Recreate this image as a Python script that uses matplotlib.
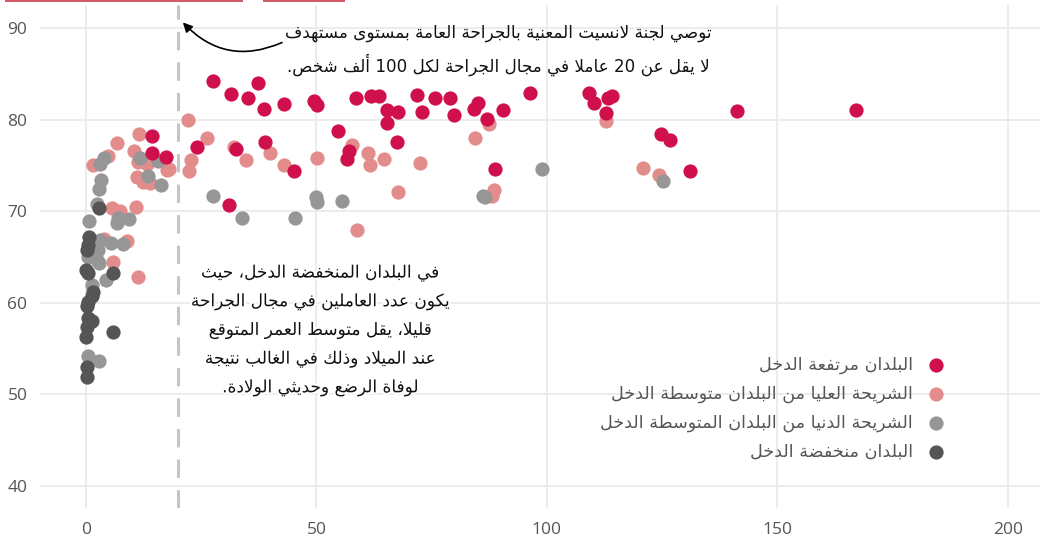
import re
import matplotlib
matplotlib.use("Agg")
import matplotlib.pyplot as plt
import matplotlib.patheffects as pe
from matplotlib.patches import Rectangle

# ---------------------------------------------------------------------------
# Arabic shaping (matplotlib has no complex text layout): presentation forms + RTL
# ---------------------------------------------------------------------------
DUAL = {'ب': 0xFE8F, 'ت': 0xFE95, 'ث': 0xFE99, 'ج': 0xFE9D, 'ح': 0xFEA1, 'خ': 0xFEA5,
        'س': 0xFEB1, 'ش': 0xFEB5, 'ص': 0xFEB9, 'ض': 0xFEBD, 'ط': 0xFEC1, 'ظ': 0xFEC5,
        'ع': 0xFEC9, 'غ': 0xFECD, 'ف': 0xFED1, 'ق': 0xFED5, 'ك': 0xFED9, 'ل': 0xFEDD,
        'م': 0xFEE1, 'ن': 0xFEE5, 'ه': 0xFEE9, 'ي': 0xFEF1, 'ئ': 0xFE89}
RIGHT = {'ا': 0xFE8D, 'أ': 0xFE83, 'إ': 0xFE87, 'آ': 0xFE81, 'د': 0xFEA9, 'ذ': 0xFEAB,
         'ر': 0xFEAD, 'ز': 0xFEAF, 'و': 0xFEED, 'ؤ': 0xFE85, 'ة': 0xFE93, 'ى': 0xFEEF}
LAM_ALEF = {'ا': 0xFEFB, 'أ': 0xFEF7, 'إ': 0xFEF9, 'آ': 0xFEF5}


def ar(text):
    # lam + alef ligatures first
    chars = []
    i = 0
    while i < len(text):
        c = text[i]
        if c == 'ل' and i + 1 < len(text) and text[i + 1] in LAM_ALEF:
            chars.append(('LA', text[i + 1]))
            i += 2
        else:
            chars.append(('C', c))
            i += 1

    def joins_left(item):  # can connect to the following letter
        return item[0] == 'C' and item[1] in DUAL

    def joining(item):
        return item[0] == 'LA' or item[1] in DUAL or item[1] in RIGHT

    out = []
    for k, item in enumerate(chars):
        prev_ok = k > 0 and joins_left(chars[k - 1]) and joining(item)
        if item[0] == 'LA':
            out.append(chr(LAM_ALEF[item[1]] + (1 if prev_ok else 0)))
            continue
        c = item[1]
        if c in DUAL:
            next_ok = k + 1 < len(chars) and joining(chars[k + 1])
            if prev_ok and next_ok:
                out.append(chr(DUAL[c] + 3))
            elif prev_ok:
                out.append(chr(DUAL[c] + 1))
            elif next_ok:
                out.append(chr(DUAL[c] + 2))
            else:
                out.append(chr(DUAL[c]))
        elif c in RIGHT:
            out.append(chr(RIGHT[c] + (1 if prev_ok else 0)))
        else:
            out.append(c)
    vis = ''.join(out)[::-1]
    # numbers stay left-to-right
    vis = re.sub(r'[0-9]+', lambda m: m.group(0)[::-1], vis)
    return vis


# ---------------------------------------------------------------------------
# DATA  (x: surgical workers per 100k, y: life expectancy)
# ---------------------------------------------------------------------------
labels = ["البلدان مرتفعة الدخل",
          "الشريحة العليا من البلدان متوسطة الدخل",
          "الشريحة الدنيا من البلدان المتوسطة الدخل",
          "البلدان منخفضة الدخل"]
colors = ['#d0104c', '#e38c8c', '#969696', '#555555']

high_x = [27.6, 31.4, 35.1, 37.2, 38.6, 43.0, 49.5, 50.2, 58.6, 61.8, 63.6, 24.1, 32.5,
          38.8, 54.7, 57.1, 56.7, 45.1, 31.0, 65.4, 67.7, 65.4, 67.5, 71.9, 75.7, 72.8,
          79.0, 79.8, 84.2, 85.0, 87.1, 90.5, 96.3, 88.8, 14.4, 14.2, 17.3, 109.2, 110.3,
          113.3, 114.2, 112.9, 124.7, 126.7, 131.0, 141.3, 167.0]
high_y = [84.2, 82.8, 82.3, 84.0, 81.1, 81.7, 82.0, 81.6, 82.3, 82.6, 82.6, 77.0, 76.8,
          77.6, 78.8, 76.6, 75.7, 74.4, 70.7, 81.0, 80.8, 79.6, 77.5, 82.7, 82.4, 80.8,
          82.4, 80.5, 81.2, 81.8, 80.1, 81.0, 82.9, 74.6, 78.2, 76.4, 75.9, 82.9, 81.8,
          82.3, 82.6, 80.7, 78.4, 77.8, 74.4, 80.9, 81.0]

umid_x = [22.2, 26.3, 22.7, 22.3, 32.0, 34.7, 40.0, 42.9, 50.1, 57.7, 61.2, 61.7, 58.7,
          64.7, 72.5, 67.6, 84.3, 87.5, 88.6, 88.1, 17.5, 18.1, 112.9, 120.9, 124.3, 11.5,
          6.7, 4.8, 1.6, 10.3, 11.3, 13.2, 11.0, 12.4, 13.9, 5.6, 7.4, 10.8, 3.8, 8.8,
          5.9, 11.3]
umid_y = [79.9, 78.0, 75.6, 74.4, 77.0, 75.6, 76.3, 75.0, 75.8, 77.2, 76.4, 75.0, 67.9,
          75.7, 75.3, 72.1, 78.0, 79.5, 72.3, 71.7, 74.5, 74.6, 79.8, 74.7, 73.9, 78.4,
          77.4, 76.0, 75.0, 76.6, 75.4, 75.2, 73.7, 73.2, 73.1, 70.3, 70.0, 70.4, 67.0,
          66.7, 64.4, 62.8]

lmid_x = [27.5, 33.8, 45.4, 50.0, 50.2, 55.5, 99.0, 125.1, 86.2, 86.6, 3.8, 3.0, 11.6,
          15.7, 13.5, 16.2, 3.2, 2.9, 2.3, 0.7, 6.7, 9.4, 5.4, 8.1, 0.5, 2.3, 2.7, 4.3,
          1.2, 0.5, 2.9, 3.0, 2.5, 7.0]
lmid_y = [71.7, 69.2, 69.3, 71.5, 71.0, 71.1, 74.6, 73.3, 71.7, 71.5, 75.8, 75.2, 75.8,
          75.5, 73.8, 72.8, 73.4, 72.4, 70.8, 68.9, 68.7, 69.1, 66.5, 66.4, 65.0, 64.7,
          64.3, 62.5, 61.9, 54.2, 53.6, 66.9, 65.8, 69.3]

low_x = [0.7, 0.3, 0.0, 0.5, 1.6, 1.2, 0.5, 0.3, 0.5, 1.2, 0.3, 0.0, 0.3, 0.1, 5.8, 5.9,
         2.7, 0.4]
low_y = [67.2, 65.8, 63.6, 63.2, 61.2, 60.7, 60.1, 59.6, 58.3, 58.0, 57.4, 56.3, 53.0,
         51.9, 63.3, 56.8, 70.3, 66.3]

target = 20
note_top = ["توصي لجنة لانسيت المعنية بالجراحة العامة بمستوى مستهدف",
            "لا يقل عن 20 عاملا في مجال الجراحة لكل 100 ألف شخص."]
note_mid = ["في البلدان المنخفضة الدخل، حيث",
            "يكون عدد العاملين في مجال الجراحة",
            "قليلا، يقل متوسط العمر المتوقع",
            "عند الميلاد وذلك في الغالب نتيجة",
            "لوفاة الرضع وحديثي الولادة."]

# ---------------------------------------------------------------------------
# PLOT
# ---------------------------------------------------------------------------
fig = plt.figure(figsize=(10.4, 5.39), dpi=100)
ax = fig.add_axes([40 / 1040, 31 / 539, 1000 / 1040, 503 / 539])
ax.set_xlim(-10, 207)
ax.set_ylim(37.6, 92.5)

for s in ax.spines.values():
    s.set_visible(False)
ax.set_xticks([0, 50, 100, 150, 200])
ax.set_yticks([40, 50, 60, 70, 80, 90])
ax.grid(True, color='#ebebeb', lw=1.3)
ax.set_axisbelow(True)
ax.tick_params(length=0, labelsize=12.5, labelcolor='#555555')
ax.tick_params(axis='x', pad=10)
ax.tick_params(axis='y', pad=9)
for lab in ax.get_xticklabels() + ax.get_yticklabels():
    lab.set_family('Open Sans')

ax.axvline(target, color='#c4c4c4', lw=2.2, ls=(0, (6, 4)), zorder=1)

ax.scatter(umid_x, umid_y, s=105, color=colors[1], lw=0, zorder=3, label=ar(labels[1]))
ax.scatter(lmid_x, lmid_y, s=105, color=colors[2], lw=0, zorder=4, label=ar(labels[2]))
ax.scatter(low_x, low_y, s=105, color=colors[3], lw=0, zorder=5, label=ar(labels[3]))
ax.scatter(high_x, high_y, s=105, color=colors[0], lw=0, zorder=6, label=ar(labels[0]))

handles, labs = ax.get_legend_handles_labels()
order = [3, 0, 1, 2]
leg = fig.legend([handles[i] for i in order], [labs[i] for i in order],
                 loc='upper right', bbox_to_anchor=(960 / 1040, 1 - 356 / 539),
                 frameon=False, markerfirst=False, labelcolor='#555555',
                 handletextpad=0.0, labelspacing=0.6, borderpad=0, borderaxespad=0,
                 handlelength=2.7, prop={'family': 'DejaVu Sans', 'size': 12.6})

# top note + arrow
ax.text(89.4, 87.6, '\n'.join(ar(t) for t in note_top), ha='center', va='center',
        fontsize=12.1, family='DejaVu Sans', color='#111111', linespacing=1.62, zorder=7)
ax.annotate('', xy=(21.0, 90.6), xytext=(42.5, 88.4),
            arrowprops=dict(arrowstyle='-|>', color='black', lw=1.2,
                            connectionstyle='arc3,rad=-0.35', mutation_scale=14,
                            shrinkA=0, shrinkB=0), zorder=7)

# middle note
ax.text(50.8, 57.0, '\n'.join(ar(t) for t in note_mid), ha='center', va='center',
        fontsize=12.2, family='DejaVu Sans', color='#111111', linespacing=1.74, zorder=7,
        path_effects=[pe.withStroke(linewidth=3, foreground='white')])

# clipped heading underline at the very top
for x0, x1 in [(5, 243), (263, 345)]:
    fig.add_artist(Rectangle((x0 / 1040, 537 / 539), (x1 - x0) / 1040, 2 / 539,
                             transform=fig.transFigure, color='#d35a68', lw=0))

fig.savefig('out.png', dpi=100)
